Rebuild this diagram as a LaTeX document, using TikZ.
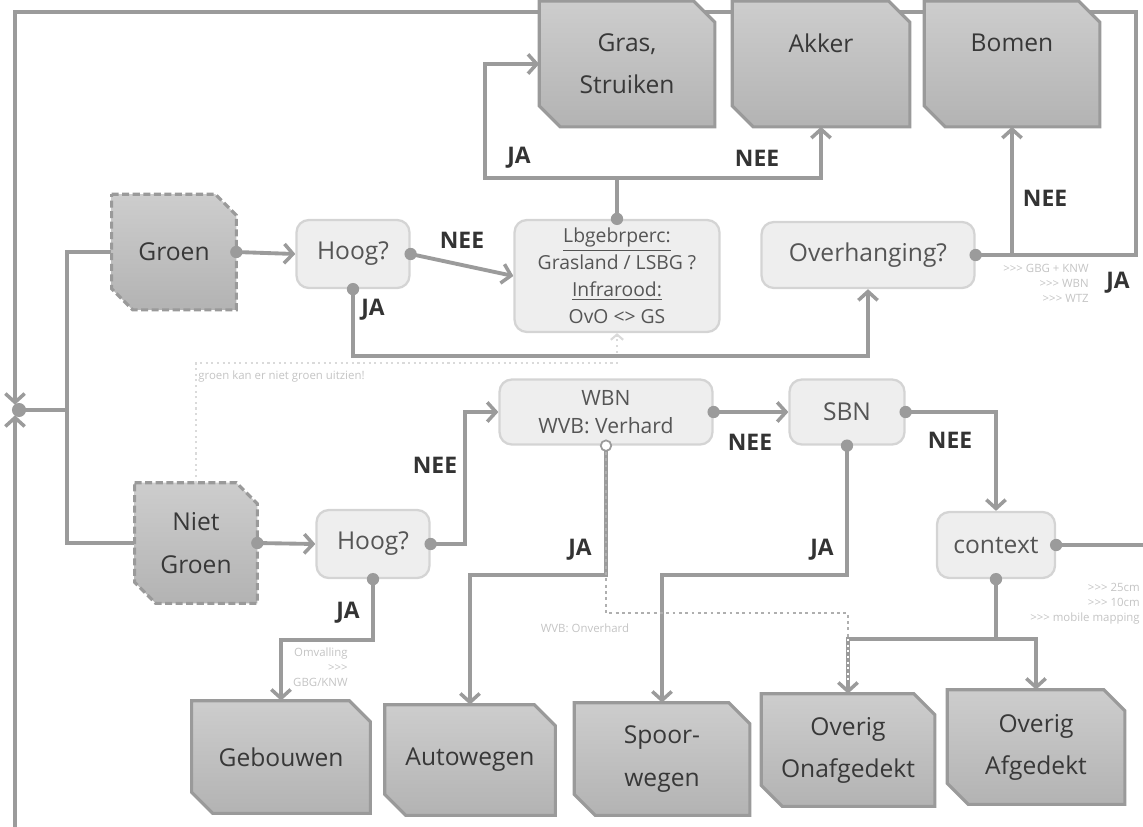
\documentclass[tikz,border=0pt]{standalone}
\usepackage{fontspec}
\setmainfont{Open Sans}
\usetikzlibrary{arrows.meta}
\pgfdeclarelayer{lines}
\pgfdeclarelayer{boxes}
\pgfsetlayers{lines,boxes,main}
\definecolor{lc}{HTML}{9B9B9B}
\definecolor{db}{HTML}{D4D4D4}
\definecolor{df}{HTML}{EEEEEE}
\definecolor{dt}{HTML}{555555}
\definecolor{ct}{HTML}{383838}
\definecolor{lt}{HTML}{333333}
\definecolor{sg}{HTML}{C4C4C4}
\definecolor{ctop}{HTML}{CDCDCD}
\definecolor{cbot}{HTML}{B3B3B3}
\definecolor{cb}{HTML}{9A9A9A}
\definecolor{fa}{HTML}{DADADA}
\newcommand{\snipbox}[2]{\path[#2] (#1.north west) -- ([xshift=-0.42cm]#1.north east) -- ([yshift=-0.42cm]#1.north east) -- (#1.south east) -- ([xshift=0.42cm]#1.south west) -- ([yshift=0.42cm]#1.south west) -- cycle;}
\newcommand{\gtr}{>\kern0pt>\kern0pt>}
\tikzset{
  ln/.style={draw=lc, line width=2.2pt},
  arr/.style={ln, -{Straight Barb[length=5pt,width=11pt,line width=2pt]}},
  dec/.style={rectangle, rounded corners=7pt, draw=db, fill=df, line width=1.3pt, text=dt,
    font=\fontsize{14}{17}\selectfont, inner sep=0pt, align=center},
  cat/.style={rectangle, inner sep=0pt, align=center, text=ct, font=\fontsize{14}{24}\selectfont},
  lab/.style={font=\bfseries\fontsize{13}{15}\selectfont, text=lt},
  tiny/.style={font=\fontsize{6.5}{8.6}\selectfont, text=sg, align=right, inner sep=0pt},
  dot/.style={circle, fill=lc, inner sep=0pt, minimum size=7pt},
  hdot/.style={circle, fill=white, draw=lc, line width=1pt, inner sep=0pt, minimum size=6pt},
  catsolid/.style={top color=ctop, bottom color=cbot, draw=cb, line width=1.8pt},
  catdash/.style={top color=ctop, bottom color=cbot, draw=cb, line width=1.8pt, dash pattern=on 4pt off 2pt},
}
\begin{document}
\begin{tikzpicture}[x=0.02cm,y=-0.02cm]
\useasboundingbox (0,0) rectangle (1143,826);

% category boxes
\node[cat, minimum width=2.48cm, minimum height=2.3cm] (groen) at (174,252) {Groen};
\node[cat, minimum width=2.44cm, minimum height=2.4cm] (niet) at (196,543) {Niet\\Groen};
\node[cat, minimum width=3.5cm, minimum height=2.5cm] (gras) at (627,64) {Gras,\\Struiken};
\node[cat, minimum width=3.54cm, minimum height=2.5cm] (akker) at (821,64) {Akker\\\mbox{}};
\node[cat, minimum width=3.5cm, minimum height=2.5cm] (bomen) at (1012,64) {Bomen\\\mbox{}};
\node[cat, minimum width=3.56cm, minimum height=2.24cm] (geb) at (281,757) {Gebouwen};
\node[cat, minimum width=3.4cm, minimum height=2.2cm] (auto) at (470,760) {Autowegen};
\node[cat, minimum width=3.5cm, minimum height=2.24cm] (spoor) at (662,759) {Spoor-\\wegen};
\node[cat, minimum width=3.46cm, minimum height=2.24cm] (ovo) at (848,750) {Overig\\Onafgedekt};
\node[cat, minimum width=3.54cm, minimum height=2.28cm] (ova) at (1036,747) {Overig\\Afgedekt};

% decision boxes
\node[dec, minimum width=2.26cm, minimum height=1.36cm] (hoogA) at (353,254) {Hoog?};
\node[dec, minimum width=4.1cm, minimum height=2.24cm, font=\fontsize{11}{15.3}\selectfont] (lbg) at (617,276) {\underline{Lbgebrperc:}\\Grasland / LSBG ?\\\underline{Infrarood:}\\OvO <> GS};
\node[dec, minimum width=4.26cm, minimum height=1.32cm] (ov) at (868,255) {Overhanging?};
\node[dec, minimum width=2.26cm, minimum height=1.36cm] (hoogB) at (373,544) {Hoog?};
\node[dec, minimum width=4.26cm, minimum height=1.3cm, font=\fontsize{12}{16}\selectfont] (wbn) at (606,412) {WBN\\WVB: Verhard};
\node[dec, minimum width=2.3cm, minimum height=1.3cm] (sbn) at (847,412) {SBN};
\node[dec, minimum width=2.36cm, minimum height=1.32cm] (ctx) at (996,545) {context};

\coordinate (J) at (15,410);
\coordinate (hz) at (0,178);
\coordinate (hl) at (0,575);
\coordinate (hg) at (0,640);
\coordinate (hc) at (0,639);

\begin{pgfonlayer}{boxes}
\snipbox{groen}{catdash}
\snipbox{niet}{catdash}
\snipbox{gras}{catsolid}
\snipbox{akker}{catsolid}
\snipbox{bomen}{catsolid}
\snipbox{geb}{catsolid}
\snipbox{auto}{catsolid}
\snipbox{spoor}{catsolid}
\snipbox{ovo}{catsolid}
\snipbox{ova}{catsolid}
\end{pgfonlayer}

\begin{pgfonlayer}{lines}
% faint dotted hint
\draw[draw=fa, dotted, line width=1.2pt, -{Straight Barb[length=3pt,width=7pt]}] (niet.north) |- (lbg.south |- 0,363) -- (lbg.south);
% frame loop
\draw[arr, shorten >=3pt] (ov.east) -- (1136,255) |- (15,12) -- (J);
\draw[arr, shorten >=3pt] (15,830) -- (J);
\draw[ln] (J) -- (67,410);
\draw[ln] (groen.west) -| (67,410) |- (niet.west);
% upper part
\draw[arr] (groen.east) -- (hoogA.west);
\draw[arr] (hoogA.east) -- (lbg.west);
\draw[arr] (hoogA.south) |- ([yshift=-1.34cm]ov.south) -- (ov.south);
\draw[arr] (lbg.north) |- (485,178) |- (gras.west);
\draw[arr] (lbg.north) |- (akker.south |- hz) -- (akker.south);
\draw[arr] (ov.east) -| (bomen.south);
% lower part
\draw[arr] (niet.east) -- (hoogB.west);
\draw[arr] (hoogB.east) -- (465,544) |- (wbn.west);
\draw[arr] (hoogB.south) |- (geb.north |- hg) -- (geb.north);
\draw[arr] (wbn.south) |- (auto.north |- hl) -- (auto.north);
\draw[arr] (wbn.east) -- (sbn.west);
\draw[arr] (sbn.south) |- (spoor.north |- hl) -- (spoor.north);
\draw[arr] (sbn.east) -| (ctx.north);
\draw[ln] (ctx.east) -- (1150,545);
\draw[arr] (ctx.south) |- (ovo.north |- hc) -- (ovo.north);
\draw[arr] (ctx.south) |- (ova.north |- hc) -- (ova.north);
\draw[draw=white, dotted, line width=1.2pt] (ovo.north |- hc) -- ([yshift=0.2cm]ovo.north);
\draw[draw=lc!80, dotted, line width=1.6pt] (wbn.south) -- (606,613) -| (ovo.north |- hc);
\end{pgfonlayer}

% dots
\node[dot] at (groen.east) {};
\node[dot] at (hoogA.east) {};
\node[dot] at (hoogA.south) {};
\node[dot] at (lbg.north) {};
\node[dot] at (ov.east) {};
\node[dot] at (niet.east) {};
\node[dot] at (hoogB.east) {};
\node[dot] at (hoogB.south) {};
\node[hdot] at (wbn.south) {};
\node[dot] at (wbn.east) {};
\node[dot] at (sbn.east) {};
\node[dot] at (sbn.south) {};
\node[dot] at (ctx.east) {};
\node[dot] at (ctx.south) {};
\node[dot, minimum size=8pt] at (19,410) {};

% labels
\node[lab] at (519,158) {JA};
\node[lab] at (757,158) {NEE};
\node[lab] at (462,240) {NEE};
\node[lab] at (373,310) {JA};
\node[lab] at (1045,198) {NEE};
\node[lab] at (1118,283) {JA};
\node[lab] at (435,465) {NEE};
\node[lab] at (348,613) {JA};
\node[lab] at (580,550) {JA};
\node[lab] at (750,442) {NEE};
\node[lab] at (822,550) {JA};
\node[lab] at (950,440) {NEE};

% small notes
\node[tiny, anchor=east] at (1089,283) {\gtr{} GBG + KNW\\\gtr{} WBN\\\gtr{} WTZ};
\node[tiny, anchor=west, align=left] at (198,377) {groen kan er niet groen uitzien!};
\node[tiny, anchor=east] at (348,667) {Omvalling\\\gtr\\GBG/KNW};
\node[tiny] at (585,628) {WVB: Onverhard};
\node[tiny, anchor=north east] at (1140,583) {\gtr{} 25cm\\\gtr{} 10cm\\\gtr{} mobile mapping};
\end{tikzpicture}
\end{document}
